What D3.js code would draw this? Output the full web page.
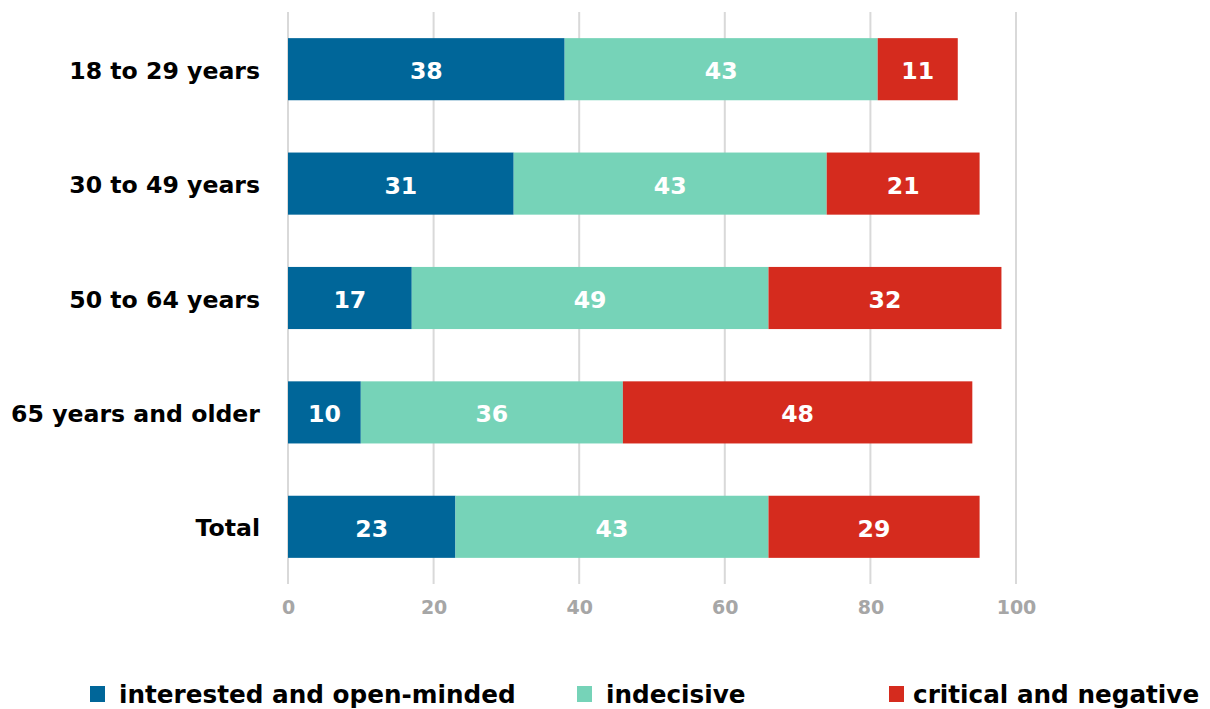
<!DOCTYPE html>
<html>
<head>
<meta charset="utf-8">
<script src="https://cdn.jsdelivr.net/npm/d3@7"></script>
<style>
  html, body { margin: 0; padding: 0; background: #ffffff; }
  svg { display: block; font-family: "DejaVu Sans", Verdana, sans-serif; }
</style>
</head>
<body>
<svg id="chart" width="1210" height="709"></svg>
<script>
// Age groups and answer shares (percent)
const categories = ["18 to 29 years", "30 to 49 years", "50 to 64 years", "65 years and older", "Total"];
const seriesNames = ["interested and open-minded", "indecisive", "critical and negative"];
const openMinded = [38, 31, 17, 10, 23];
const indecisive = [43, 43, 49, 36, 43];
const critical   = [11, 21, 32, 48, 29];
const xTicks = [0, 20, 40, 60, 80, 100];
const colors = ["#006699", "#76d3b8", "#d52b1e"];

const seriesValues = [openMinded, indecisive, critical];
const rows = categories.map((c, i) => {
  const r = { category: c };
  seriesNames.forEach((s, k) => { r[s] = seriesValues[k][i]; });
  return r;
});

const svg = d3.select("#chart");
const plot = { left: 288, right: 1016, top: 12, bottom: 584 };

const x = d3.scaleLinear().domain([0, 100]).range([plot.left, plot.right]);
const y = d3.scaleBand().domain(categories).range([plot.top, plot.bottom])
  .paddingInner(0.457).paddingOuter(0.2285);

// vertical gridlines
svg.append("g").selectAll("line").data(xTicks).join("line")
  .attr("x1", d => x(d)).attr("x2", d => x(d))
  .attr("y1", plot.top).attr("y2", plot.bottom)
  .attr("stroke", "#d9d9d9").attr("stroke-width", 2);

// x axis tick labels
const xAxis = d3.axisBottom(x).tickValues(xTicks).tickSize(0).tickPadding(17);
const gx = svg.append("g").attr("transform", `translate(0,${plot.bottom})`).call(xAxis);
gx.select(".domain").remove();
gx.selectAll("text")
  .attr("fill", "#a6a6a6").style("font-size", "19px").style("font-weight", "bold")
  .style("font-family", "\"DejaVu Sans\", Verdana, sans-serif");

// y axis category labels
const yAxis = d3.axisLeft(y).tickSize(0).tickPadding(28);
const gy = svg.append("g").attr("transform", `translate(${plot.left},2)`).call(yAxis);
gy.select(".domain").remove();
gy.selectAll("text")
  .attr("fill", "#000000").style("font-size", "23.6px").style("font-weight", "bold")
  .style("font-family", "\"DejaVu Sans\", Verdana, sans-serif");

// stacked bars
const stacked = d3.stack().keys(seriesNames)(rows);
const layers = svg.append("g").selectAll("g").data(stacked).join("g")
  .attr("fill", (d, i) => colors[i]);

layers.selectAll("rect").data(d => d).join("rect")
  .attr("x", d => x(d[0]))
  .attr("width", d => x(d[1]) - x(d[0]))
  .attr("y", d => y(d.data.category))
  .attr("height", y.bandwidth());

// value labels
layers.each(function(layer) {
  d3.select(this).selectAll("text").data(layer).join("text")
    .attr("x", d => (x(d[0]) + x(d[1])) / 2)
    .attr("y", d => y(d.data.category) + y.bandwidth() / 2 + 2)
    .attr("text-anchor", "middle")
    .attr("dominant-baseline", "central")
    .attr("fill", "#ffffff")
    .style("font-size", "23.6px").style("font-weight", "bold")
    .text(d => d.data[layer.key]);
});

// legend
const legendItems = [
  { x: 90, name: seriesNames[0], color: colors[0], gap: 29 },
  { x: 577, name: seriesNames[1], color: colors[1], gap: 29 },
  { x: 889, name: seriesNames[2], color: colors[2], gap: 24 }
];
const legend = svg.append("g").selectAll("g").data(legendItems).join("g")
  .attr("transform", d => `translate(${d.x},686)`);
legend.append("rect").attr("width", 15).attr("height", 16).attr("fill", d => d.color);
legend.append("text")
  .attr("x", d => d.gap).attr("y", 8)
  .attr("dominant-baseline", "central")
  .attr("fill", "#000000").style("font-size", "24.7px").style("font-weight", "bold")
  .text(d => d.name);
</script>
</body>
</html>
